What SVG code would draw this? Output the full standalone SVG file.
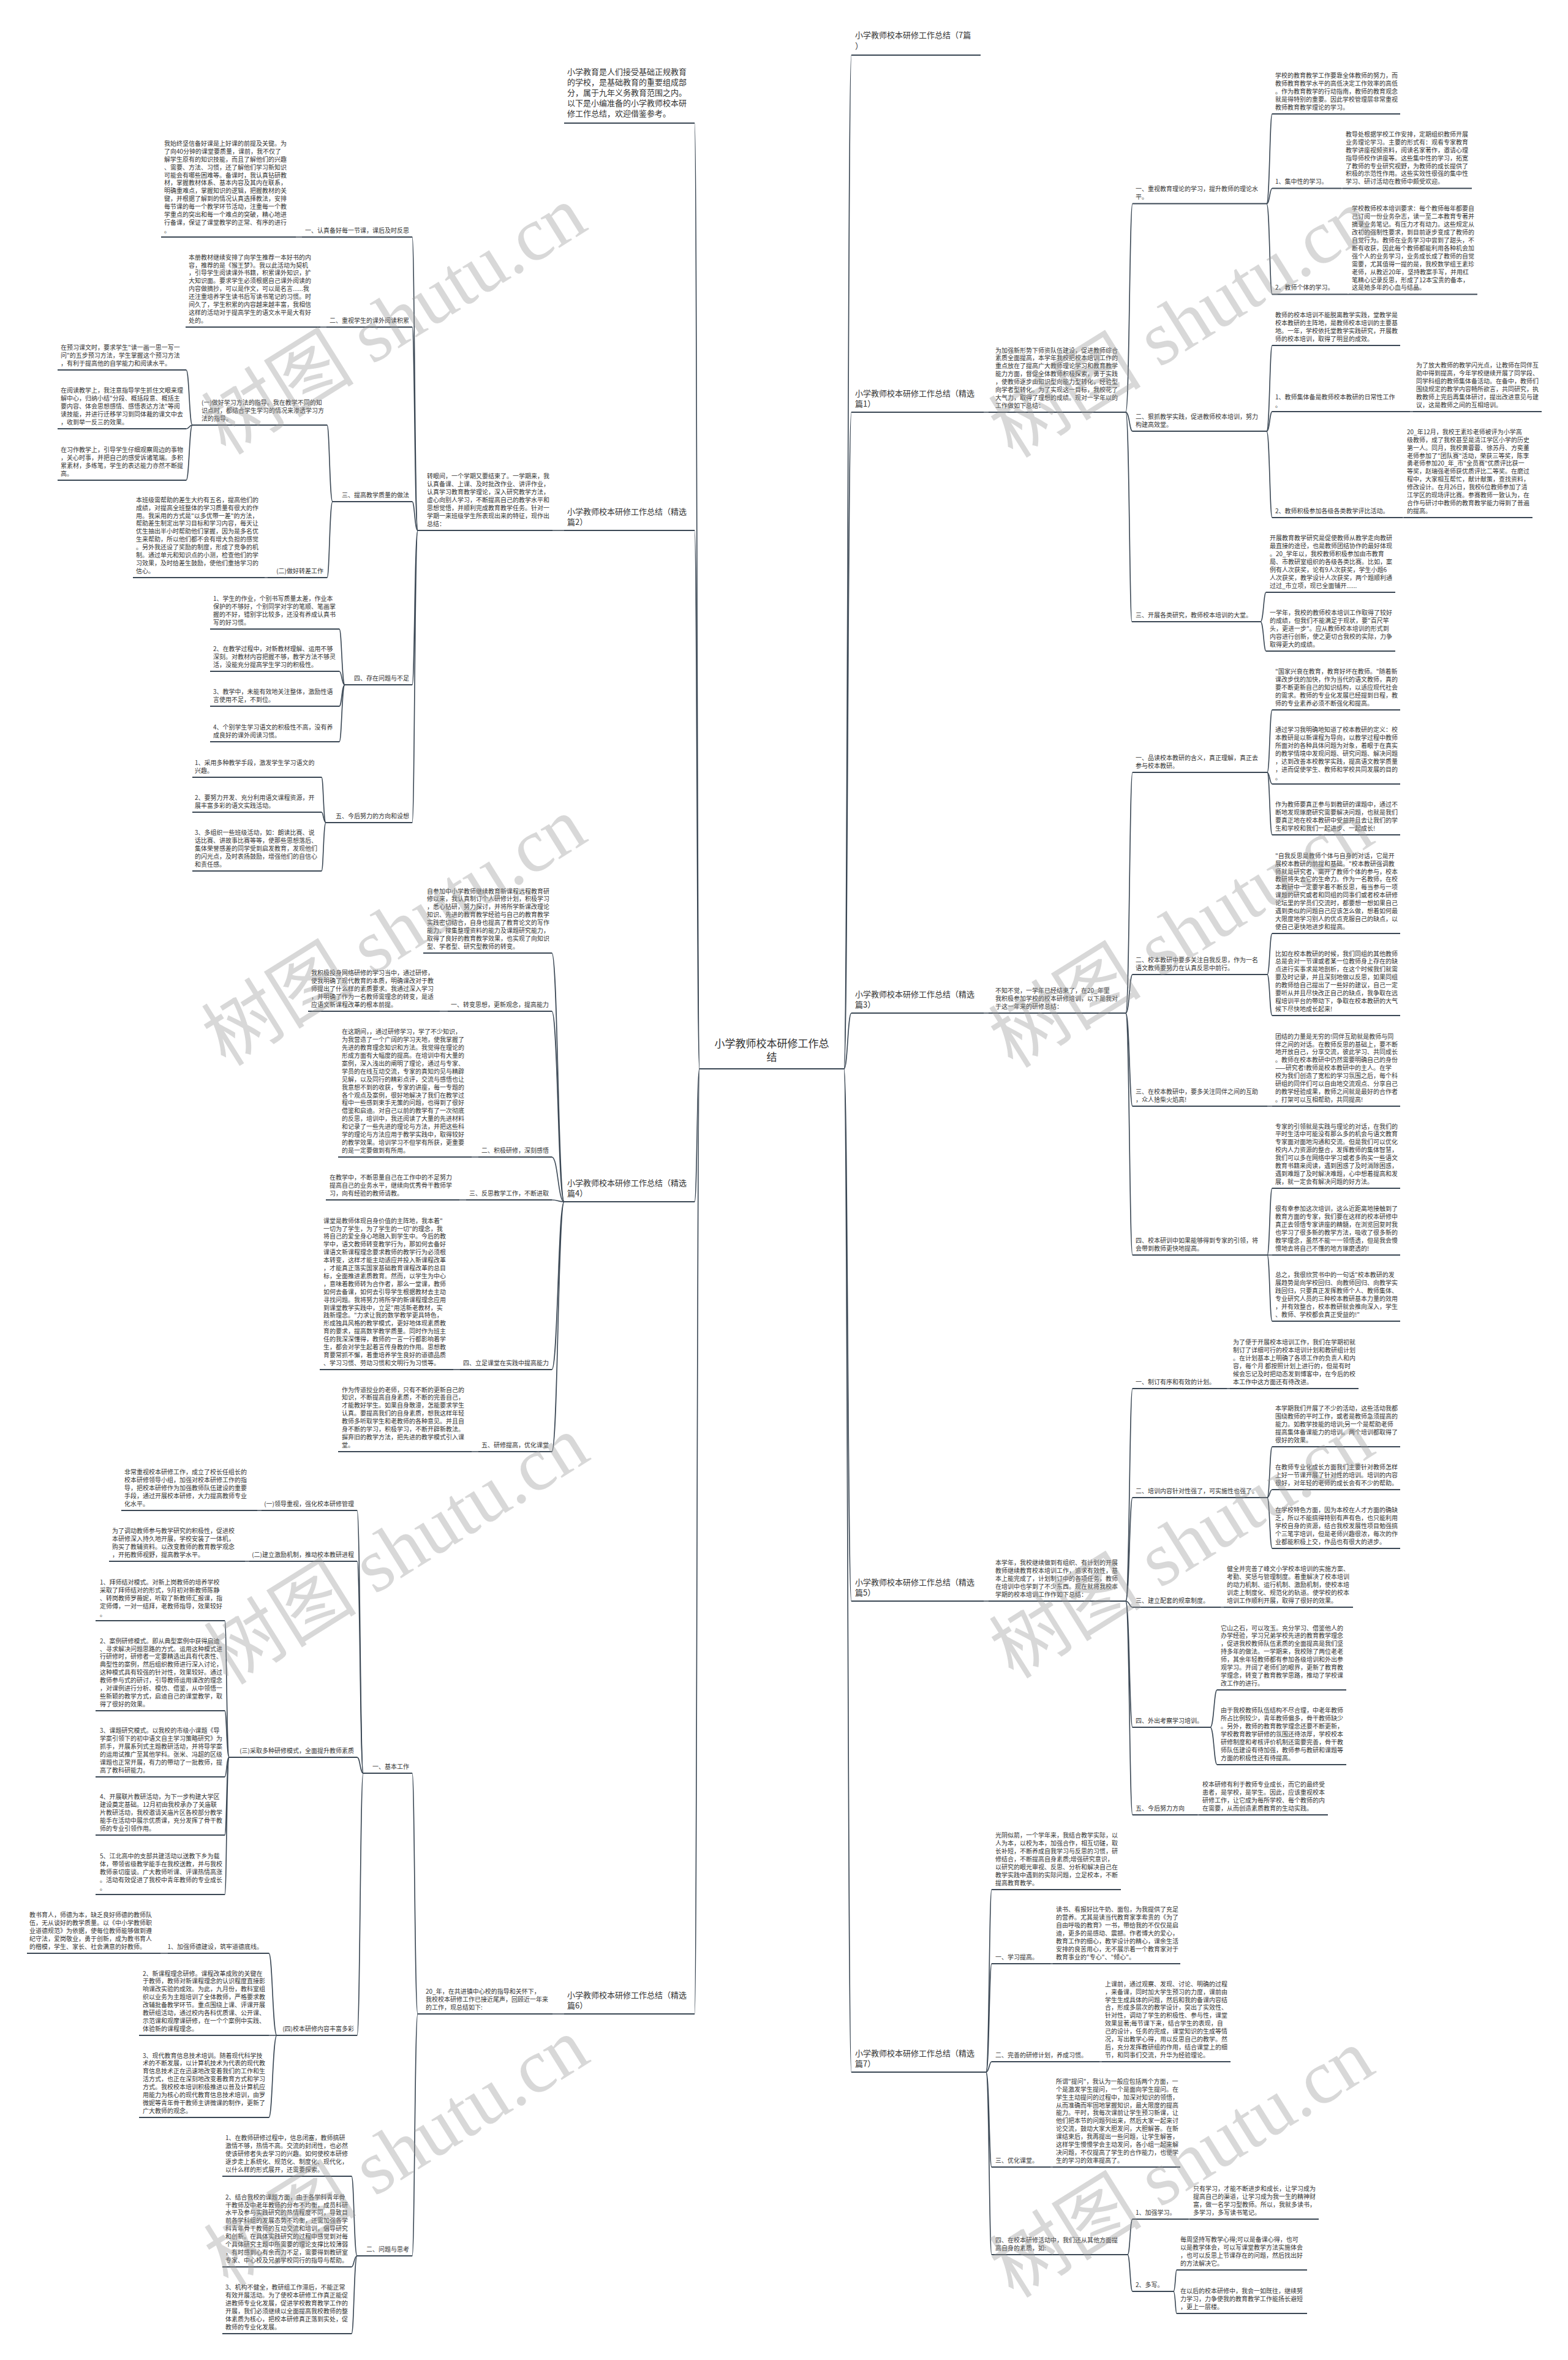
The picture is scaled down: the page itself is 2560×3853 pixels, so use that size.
<svg xmlns="http://www.w3.org/2000/svg" width="2560" height="3853" viewBox="0 0 2560 3853">
<style>
text{font-family:"Noto Sans CJK SC","Noto Sans",sans-serif;fill:#333}
.t{font-size:10px}
.h{font-size:13px}
.c{font-size:17px}
.u,.e{stroke:#3a4754;fill:none;stroke-width:2}
.e{stroke-width:1.6}
.wm{font-family:"Liberation Serif","Noto Sans CJK SC",serif;font-size:125px;fill:#999;fill-opacity:0.38}
</style>
<rect width="2560" height="3853" fill="#fff"/>
<g id="connectors">
<path class="e" d="M1378 1745 C1384 1745 1384 90 1390 90"/>
<path class="e" d="M1378 1745 C1384 1745 1384 673 1390 673"/>
<path class="e" d="M1378 1745 C1384 1745 1384 1654 1390 1654"/>
<path class="e" d="M1378 1745 C1384 1745 1384 2614 1390 2614"/>
<path class="e" d="M1378 1745 C1384 1745 1384 3383 1390 3383"/>
<path class="e" d="M1606 673 H1614"/>
<path class="e" d="M1838 673 C1844 673 1844 332.5 1849 332.5"/>
<path class="e" d="M1838 673 C1844 673 1844 704 1849 704"/>
<path class="e" d="M1838 673 C1844 673 1844 1015 1848 1015"/>
<path class="e" d="M2068 332.5 C2073 332.5 2073 186 2077 186"/>
<path class="e" d="M2068 332.5 C2073 332.5 2073 307.5 2077 307.5"/>
<path class="e" d="M2068 332.5 C2073 332.5 2073 480.6 2077 480.6"/>
<path class="e" d="M2190 307.5 H2192"/>
<path class="e" d="M2200 480.6 H2202"/>
<path class="e" d="M2068 704 C2073 704 2073 564 2077 564"/>
<path class="e" d="M2068 704 C2073 704 2073 672 2077 672"/>
<path class="e" d="M2068 704 C2073 704 2073 845 2077 845"/>
<path class="e" d="M2302 672 H2307"/>
<path class="e" d="M2290 845 H2292"/>
<path class="e" d="M2058 1015 C2063 1015 2063 967 2067 967"/>
<path class="e" d="M2058 1015 C2063 1015 2063 1063 2067 1063"/>
<path class="e" d="M1606 1654 H1614"/>
<path class="e" d="M1838 1654 C1844 1654 1844 1261 1849 1261"/>
<path class="e" d="M1838 1654 C1844 1654 1844 1591 1849 1591"/>
<path class="e" d="M1838 1654 C1844 1654 1844 1806 1849 1806"/>
<path class="e" d="M1838 1654 C1844 1654 1844 2049 1849 2049"/>
<path class="e" d="M2069 1261 C2073 1261 2073 1159 2077 1159"/>
<path class="e" d="M2069 1261 C2073 1261 2073 1280 2077 1280"/>
<path class="e" d="M2069 1261 C2073 1261 2073 1363 2077 1363"/>
<path class="e" d="M2069 1591 C2073 1591 2073 1524 2077 1524"/>
<path class="e" d="M2069 1591 C2073 1591 2073 1658 2077 1658"/>
<path class="e" d="M2069 1806 H2077"/>
<path class="e" d="M2069 2049 C2073 2049 2073 1940 2077 1940"/>
<path class="e" d="M2069 2049 H2077"/>
<path class="e" d="M2069 2049 C2073 2049 2073 2157 2077 2157"/>
<path class="e" d="M1606 2614 H1614"/>
<path class="e" d="M1838 2614 C1844 2614 1844 2267 1849 2267"/>
<path class="e" d="M1838 2614 C1844 2614 1844 2445 1849 2445"/>
<path class="e" d="M1838 2614 C1844 2614 1844 2624 1849 2624"/>
<path class="e" d="M1838 2614 C1844 2614 1844 2820 1849 2820"/>
<path class="e" d="M1838 2614 C1844 2614 1844 2963 1849 2963"/>
<path class="e" d="M2003 2267 H2008"/>
<path class="e" d="M2069 2445 C2073 2445 2073 2362 2077 2362"/>
<path class="e" d="M2069 2445 C2073 2445 2073 2432 2077 2432"/>
<path class="e" d="M2069 2445 C2073 2445 2073 2528 2077 2528"/>
<path class="e" d="M1993 2624 H1998"/>
<path class="e" d="M1976 2820 C1982 2820 1982 2759 1987 2759"/>
<path class="e" d="M1976 2820 C1982 2820 1982 2881 1987 2881"/>
<path class="e" d="M1955 2963 H1958"/>
<path class="e" d="M1610 3383 C1615 3383 1615 3085 1619 3085"/>
<path class="e" d="M1610 3383 C1615 3383 1615 3206 1619 3206"/>
<path class="e" d="M1610 3383 C1615 3383 1615 3366 1619 3366"/>
<path class="e" d="M1610 3383 C1615 3383 1615 3538 1619 3538"/>
<path class="e" d="M1610 3383 C1615 3383 1615 3681 1619 3681"/>
<path class="e" d="M1715 3206 H1719"/>
<path class="e" d="M1795 3366 H1799"/>
<path class="e" d="M1715 3538 H1719"/>
<path class="e" d="M1841 3681 C1845 3681 1845 3623 1849 3623"/>
<path class="e" d="M1841 3681 C1845 3681 1845 3741 1849 3741"/>
<path class="e" d="M1940 3623 H1943"/>
<path class="e" d="M1916 3741 C1919 3741 1919 3706 1921 3706"/>
<path class="e" d="M1916 3741 C1919 3741 1919 3777 1921 3777"/>
<path class="e" d="M1142 1745 C1138 1745 1138 201 1134 201"/>
<path class="e" d="M1142 1745 C1138 1745 1138 866 1134 866"/>
<path class="e" d="M1142 1745 C1138 1745 1138 1962 1134 1962"/>
<path class="e" d="M1142 1745 C1138 1745 1138 3288 1134 3288"/>
<path class="e" d="M921 866 H902"/>
<path class="e" d="M682 866 C677 866 677 387 673 387"/>
<path class="e" d="M682 866 C677 866 677 534 673 534"/>
<path class="e" d="M682 866 C677 866 677 819 673 819"/>
<path class="e" d="M682 866 C677 866 677 1118 673 1118"/>
<path class="e" d="M682 866 C677 866 677 1343 673 1343"/>
<path class="e" d="M493 387 H483"/>
<path class="e" d="M533 534 H523"/>
<path class="e" d="M543 819 C538 819 538 694 534 694"/>
<path class="e" d="M543 819 C538 819 538 943 534 943"/>
<path class="e" d="M314 694 C309 694 309 604 304 604"/>
<path class="e" d="M314 694 C309 694 309 700 304 700"/>
<path class="e" d="M314 694 C309 694 309 784 304 784"/>
<path class="e" d="M437 943 H432"/>
<path class="e" d="M563 1118 C558 1118 558 1027 554 1027"/>
<path class="e" d="M563 1118 C558 1118 558 1096 554 1096"/>
<path class="e" d="M563 1118 C558 1118 558 1153 554 1153"/>
<path class="e" d="M563 1118 C558 1118 558 1211 554 1211"/>
<path class="e" d="M532 1343 C528 1343 528 1269 525 1269"/>
<path class="e" d="M532 1343 C528 1343 528 1326 525 1326"/>
<path class="e" d="M532 1343 C528 1343 528 1422 525 1422"/>
<path class="e" d="M921 1962 C911 1962 911 1556 901 1556"/>
<path class="e" d="M921 1962 C911 1962 911 1651 901 1651"/>
<path class="e" d="M921 1962 C911 1962 911 1889 901 1889"/>
<path class="e" d="M921 1962 C911 1962 911 1959 901 1959"/>
<path class="e" d="M921 1962 C911 1962 911 2236 901 2236"/>
<path class="e" d="M921 1962 C911 1962 911 2370 901 2370"/>
<path class="e" d="M731 1651 H718"/>
<path class="e" d="M781 1889 H770"/>
<path class="e" d="M761 1959 H750"/>
<path class="e" d="M751 2236 H740"/>
<path class="e" d="M781 2370 H770"/>
<path class="e" d="M921 3288 H902"/>
<path class="e" d="M682 3288 C677 3288 677 2895 673 2895"/>
<path class="e" d="M682 3288 C677 3288 677 3683 673 3683"/>
<path class="e" d="M593 2895 C588 2895 588 2466 583 2466"/>
<path class="e" d="M593 2895 C588 2895 588 2549 583 2549"/>
<path class="e" d="M593 2895 C588 2895 588 2869 583 2869"/>
<path class="e" d="M593 2895 C588 2895 588 3323 583 3323"/>
<path class="e" d="M427 2466 H420"/>
<path class="e" d="M407 2549 H400"/>
<path class="e" d="M374 2869 C370 2869 370 2646 367 2646"/>
<path class="e" d="M374 2869 C370 2869 370 2793 367 2793"/>
<path class="e" d="M374 2869 C370 2869 370 2901 367 2901"/>
<path class="e" d="M374 2869 C370 2869 370 2996 367 2996"/>
<path class="e" d="M374 2869 C370 2869 370 3093 367 3093"/>
<path class="e" d="M452 3323 C445 3323 445 3189 439 3189"/>
<path class="e" d="M452 3323 H439"/>
<path class="e" d="M452 3323 C445 3323 445 3457 439 3457"/>
<path class="e" d="M274 3189 H262"/>
<path class="e" d="M583 3683 C578 3683 578 3553 574 3553"/>
<path class="e" d="M583 3683 C578 3683 578 3701 574 3701"/>
<path class="e" d="M583 3683 C578 3683 578 3810 574 3810"/>
</g>
<g id="center"><text class="c" text-anchor="middle"><tspan x="1260" y="1709.5">小学教师校本研修工作总</tspan><tspan x="1260" y="1731.5">结</tspan></text><path class="u" d="M1142 1745 H1378"/></g>
<g id="r0"><text class="h"><tspan x="1396" y="62.4">小学教师校本研修工作总结（7篇</tspan><tspan x="1396" dy="17.5">）</tspan></text><path class="u" d="M1390 90 H1601"/></g>
<g id="r1"><text class="h"><tspan x="1396" y="646.9">小学教师校本研修工作总结（精选</tspan><tspan x="1396" dy="17">篇1）</tspan></text><path class="u" d="M1390 673 H1606"/></g>
<g id="r1i"><text class="t"><tspan x="1625" y="575.5">为加强新形势下师资队伍建设，促进教师综合</tspan><tspan x="1625" dy="12.9">素质全面提高，本学年我校把校本培训工作的</tspan><tspan x="1625" dy="12.9">重点放在了提高广大教师理论学习和教育教学</tspan><tspan x="1625" dy="12.9">能力方面，督促全体教师积极探索，勇于实践</tspan><tspan x="1625" dy="12.9">，使教师逐步由知识型向能力型转化，经验型</tspan><tspan x="1625" dy="12.9">向学者型转化。为了实现这一目标，我校花了</tspan><tspan x="1625" dy="12.9">大气力，取得了理想的成绩。现对一学年以的</tspan><tspan x="1625" dy="12.9">工作做如下总结：</tspan></text><path class="u" d="M1614 673 H1838"/></g>
<g id="r1a"><text class="t"><tspan x="1854" y="312.4">一、重视教育理论的学习，提升教师的理论水</tspan><tspan x="1854" dy="12.9">平。</tspan></text><path class="u" d="M1849 332.5 H2068"/></g>
<g id="r1a1"><text class="t"><tspan x="2082" y="127.2">学校的教育教学工作要靠全体教师的努力，而</tspan><tspan x="2082" dy="12.9">教师教育教学水平的高低决定工作效率的高低</tspan><tspan x="2082" dy="12.9">。作为教育教学的行动指南，教师的教育观念</tspan><tspan x="2082" dy="12.9">就是得特别的重要。因此学校管理层非常重视</tspan><tspan x="2082" dy="12.9">教师教育教学理论的学习。</tspan></text><path class="u" d="M2077 186 H2286"/></g>
<g id="r1a2"><text class="t" x="2082" y="300.3">1、集中性的学习。</text><path class="u" d="M2077 307.5 H2190"/></g>
<g id="r1a2c"><text class="t"><tspan x="2197" y="222.9">教导处根据学校工作安排，定期组织教师开展</tspan><tspan x="2197" dy="12.9">业务理论学习。主要的形式有：观看专家教育</tspan><tspan x="2197" dy="12.9">教学讲座视频资料，阅读名家著作，邀请心理</tspan><tspan x="2197" dy="12.9">指导师校作讲座等。这些集中性的学习，拓宽</tspan><tspan x="2197" dy="12.9">了教师的专业研究视野，为教师的成长提供了</tspan><tspan x="2197" dy="12.9">积极的示范性作用。这些实效性很强的集中性</tspan><tspan x="2197" dy="12.9">学习、研讨活动在教师中颇受欢迎。</tspan></text><path class="u" d="M2192 307.5 H2403"/></g>
<g id="r1a3"><text class="t" x="2082" y="473.4">2、教师个体的学习。</text><path class="u" d="M2077 480.6 H2200"/></g>
<g id="r1a3c"><text class="t"><tspan x="2207" y="344.4">学校教师校本培训要求：每个教师每年都要自</tspan><tspan x="2207" dy="12.9">己订阅一份业务杂志，读一至二本教育专著并</tspan><tspan x="2207" dy="12.9">摘录业务笔记。有压力才有动力。这些规定从</tspan><tspan x="2207" dy="12.9">改初的强制性要求，到目前逐步变成了教师的</tspan><tspan x="2207" dy="12.9">自觉行为。教师在业务学习中尝到了甜头，不</tspan><tspan x="2207" dy="12.9">断有收获，因此每个教师都能利用各种机会加</tspan><tspan x="2207" dy="12.9">强个人的业务学习，业务成长成了教师的自觉</tspan><tspan x="2207" dy="12.9">需要，尤其值得一提的是，我校数学组王素珍</tspan><tspan x="2207" dy="12.9">老师，从教近20年，坚持教案手写，并用红</tspan><tspan x="2207" dy="12.9">笔精心记录反思，形成了12本宝贵的备本，</tspan><tspan x="2207" dy="12.9">这是她多年的心血与结晶。</tspan></text><path class="u" d="M2202 480.6 H2412"/></g>
<g id="r1b"><text class="t"><tspan x="1854" y="683.9">二、狠抓教学实践，促进教师校本培训，努力</tspan><tspan x="1854" dy="12.9">构建高效堂。</tspan></text><path class="u" d="M1849 704 H2068"/></g>
<g id="r1b1"><text class="t"><tspan x="2082" y="518.1">教师的校本培训不能脱离教学实践，堂教学是</tspan><tspan x="2082" dy="12.9">校本教研的主阵地，是教师校本培训的主要基</tspan><tspan x="2082" dy="12.9">地。一年，学校依托堂教学实践研究，开展教</tspan><tspan x="2082" dy="12.9">师的校本培训，取得了明显的成效。</tspan></text><path class="u" d="M2077 564 H2286"/></g>
<g id="r1b2"><text class="t"><tspan x="2082" y="651.9">1、教师集体备是教师校本教研的日常性工作</tspan><tspan x="2082" dy="12.9">。</tspan></text><path class="u" d="M2077 672 H2302"/></g>
<g id="r1b2c"><text class="t"><tspan x="2312" y="600.3">为了放大教师的教学闪光点，让教师在同伴互</tspan><tspan x="2312" dy="12.9">助中得到提高，今年学校继续开展了同学段、</tspan><tspan x="2312" dy="12.9">同学科组的教师集体备活动。在备中，教师们</tspan><tspan x="2312" dy="12.9">围绕规定的教学内容畅所欲言，共同研究，执</tspan><tspan x="2312" dy="12.9">教教师上完后再集体研讨，提出改进意见与建</tspan><tspan x="2312" dy="12.9">议，这是教师之间的互相培训。</tspan></text><path class="u" d="M2307 672 H2517"/></g>
<g id="r1b3"><text class="t" x="2082" y="837.8">2、教师积极参加各级各类教学评比活动。</text><path class="u" d="M2077 845 H2290"/></g>
<g id="r1b3c"><text class="t"><tspan x="2297" y="708.8">20_年12月，我校王素珍老师被评为小学高</tspan><tspan x="2297" dy="12.9">级教师，成了我校甚至是清江学区小学的历史</tspan><tspan x="2297" dy="12.9">第一人。同月，我校黄蓉蓉、徐苏丹、方奕董</tspan><tspan x="2297" dy="12.9">老师参加了"团队赛"活动，荣获三等奖，陈李</tspan><tspan x="2297" dy="12.9">勇老师参加20_年_市"全员赛"优质评比获一</tspan><tspan x="2297" dy="12.9">等奖，赵瑞强老师获优质评比二等奖。在磨过</tspan><tspan x="2297" dy="12.9">程中，大家相互帮忙，献计献策，查找资料，</tspan><tspan x="2297" dy="12.9">修改设计。在月26日，我校6位教师参加了清</tspan><tspan x="2297" dy="12.9">江学区的现场评比赛。参赛教师一致认为，在</tspan><tspan x="2297" dy="12.9">合作与研讨中教师的教育教学能力得到了普遍</tspan><tspan x="2297" dy="12.9">的提高。</tspan></text><path class="u" d="M2292 845 H2502"/></g>
<g id="r1c"><text class="t" x="1854" y="1007.8">三、开展各类研究，教师校本培训的大堂。</text><path class="u" d="M1848 1015 H2058"/></g>
<g id="r1c1"><text class="t"><tspan x="2073" y="882.4">开展教育教学研究是促使教师从教学走向教研</tspan><tspan x="2073" dy="12.9">最直接的途径，也是教师团结协作的最好体现</tspan><tspan x="2073" dy="12.9">。20_学年以，我校教师积极参加由市教育</tspan><tspan x="2073" dy="12.9">局、市教研室组织的各级各类比赛。比如，案</tspan><tspan x="2073" dy="12.9">例有人次获奖，论有9人次获奖，学生小题6</tspan><tspan x="2073" dy="12.9">人次获奖，教学设计人次获奖，两个题顺利通</tspan><tspan x="2073" dy="12.9">过过_市立项，现已全面铺开......</tspan></text><path class="u" d="M2067 967 H2278"/></g>
<g id="r1c2"><text class="t"><tspan x="2073" y="1004.2">一学年，我校的教师校本培训工作取得了较好</tspan><tspan x="2073" dy="12.9">的成绩，但我们不能满足于现状，要"百尺竿</tspan><tspan x="2073" dy="12.9">头，更进一步"。应从教师校本培训的形式到</tspan><tspan x="2073" dy="12.9">内容进行创新，使之更切合我校的实际，力争</tspan><tspan x="2073" dy="12.9">取得更大的成绩。</tspan></text><path class="u" d="M2067 1063 H2278"/></g>
<g id="r3"><text class="h"><tspan x="1396" y="1627.9">小学教师校本研修工作总结（精选</tspan><tspan x="1396" dy="17">篇3）</tspan></text><path class="u" d="M1390 1654 H1606"/></g>
<g id="r3i"><text class="t"><tspan x="1625" y="1621">不知不觉，一学年已经结束了，在20_年里</tspan><tspan x="1625" dy="12.9">我积极参加学校的校本研修培训，以下是我对</tspan><tspan x="1625" dy="12.9">于这一年来的研修总结：</tspan></text><path class="u" d="M1614 1654 H1838"/></g>
<g id="r3a"><text class="t"><tspan x="1854" y="1240.9">一、品读校本教研的含义，真正理解，真正去</tspan><tspan x="1854" dy="12.9">参与校本教研。</tspan></text><path class="u" d="M1849 1261 H2069"/></g>
<g id="r3a1"><text class="t"><tspan x="2082" y="1100.2">"国家兴衰在教育，教育好坏在教师。"随着新</tspan><tspan x="2082" dy="12.9">课改步伐的加快，作为当代的语文教师，真的</tspan><tspan x="2082" dy="12.9">要不断更新自己的知识结构，以适应现代社会</tspan><tspan x="2082" dy="12.9">的需求。教师的专业化发展已经提到日程，教</tspan><tspan x="2082" dy="12.9">师的专业素养必须不断强化和提高。</tspan></text><path class="u" d="M2077 1159 H2286"/></g>
<g id="r3a2"><text class="t"><tspan x="2082" y="1195.4">通过学习我明确地知道了校本教研的定义：校</tspan><tspan x="2082" dy="12.9">本教研是以新课程为导向，以教学过程中教师</tspan><tspan x="2082" dy="12.9">所面对的各种具体问题为对象，着眼于在真实</tspan><tspan x="2082" dy="12.9">的教学情境中发现问题、研究问题、解决问题</tspan><tspan x="2082" dy="12.9">，达到改善本校教学实践，提高语文教学质量</tspan><tspan x="2082" dy="12.9">，进而促使学生、教师和学校共同发展的目的</tspan><tspan x="2082" dy="12.9">。</tspan></text><path class="u" d="M2077 1280 H2286"/></g>
<g id="r3a3"><text class="t"><tspan x="2082" y="1317.1">作为教师要真正参与到教研的课题中，通过不</tspan><tspan x="2082" dy="12.9">断地发现琢磨研究需要解决问题，也就是我们</tspan><tspan x="2082" dy="12.9">要真正地在校本教研中受益并且去让我们的学</tspan><tspan x="2082" dy="12.9">生和学校和我们一起进步、一起成长!</tspan></text><path class="u" d="M2077 1363 H2286"/></g>
<g id="r3b"><text class="t"><tspan x="1854" y="1570.9">二、校本教研中要多关注自我反思，作为一名</tspan><tspan x="1854" dy="12.9">语文教师要努力在认真反思中前行。</tspan></text><path class="u" d="M1849 1591 H2069"/></g>
<g id="r3b1"><text class="t"><tspan x="2082" y="1400.7">"自我反思是教师个体与自身的对话，它是开</tspan><tspan x="2082" dy="12.9">展校本教研的前提和基础。"校本教研强调教</tspan><tspan x="2082" dy="12.9">师就是研究者，离开了教师个体的参与，校本</tspan><tspan x="2082" dy="12.9">教研将失去它的生命力。作为一名教师，在校</tspan><tspan x="2082" dy="12.9">本教研中一定要学着不断反思，每当参与一项</tspan><tspan x="2082" dy="12.9">课题的研究或者和同组的同事们或者校本研修</tspan><tspan x="2082" dy="12.9">论坛里的学员们交流时，都要想一想如果自己</tspan><tspan x="2082" dy="12.9">遇到类似的问题自己应该怎么做，想着如何最</tspan><tspan x="2082" dy="12.9">大限度地学习别人的优点克服自己的缺点，以</tspan><tspan x="2082" dy="12.9">使自己更快地进步和提高。</tspan></text><path class="u" d="M2077 1524 H2286"/></g>
<g id="r3b2"><text class="t"><tspan x="2082" y="1560.5">比如在校本教研的时候，我们同组的其他教师</tspan><tspan x="2082" dy="12.9">总是会对一节课或者某一位教师身上存在的缺</tspan><tspan x="2082" dy="12.9">点进行实事求是地剖析，在这个时候我们就需</tspan><tspan x="2082" dy="12.9">要及时记录，并且深刻地做以反思，如果同组</tspan><tspan x="2082" dy="12.9">的教师给自己提出了一些好的建议，自己一定</tspan><tspan x="2082" dy="12.9">要听从并且尽快改正自己的缺点，我争取在远</tspan><tspan x="2082" dy="12.9">程培训平台的带动下，争取在校本教研的大气</tspan><tspan x="2082" dy="12.9">候下尽快地成长起来!</tspan></text><path class="u" d="M2077 1658 H2286"/></g>
<g id="r3c"><text class="t"><tspan x="1854" y="1785.9">三、在校本教研中，要多关注同伴之间的互助</tspan><tspan x="1854" dy="12.9">，众人拾柴火焰高!</tspan></text><path class="u" d="M1849 1806 H2069"/></g>
<g id="r3c1"><text class="t"><tspan x="2082" y="1695.6">团结的力量是无穷的!同伴互助就是教师与同</tspan><tspan x="2082" dy="12.9">伴之间的对话。在教师反思的基础上，要不断</tspan><tspan x="2082" dy="12.9">地开放自己，分享交流，彼此学习、共同成长</tspan><tspan x="2082" dy="12.9">。教师在校本教研中仍然需要明确自己的身份</tspan><tspan x="2082" dy="12.9">——研究者!教师是校本教研中的主人。在学</tspan><tspan x="2082" dy="12.9">校为我们创造了宽松的学习氛围之后，每个科</tspan><tspan x="2082" dy="12.9">研组的同伴们可以自由地交流观点、分享自己</tspan><tspan x="2082" dy="12.9">的教学经验成果，教师之间就是最好的合作者</tspan><tspan x="2082" dy="12.9">。打架可以互相帮助，共同提高!</tspan></text><path class="u" d="M2077 1806 H2286"/></g>
<g id="r3d"><text class="t"><tspan x="1854" y="2028.9">四、校本研训中如果能够得到专家的引领，将</tspan><tspan x="1854" dy="12.9">会带到教师更快地提高。</tspan></text><path class="u" d="M1849 2049 H2069"/></g>
<g id="r3d1"><text class="t"><tspan x="2082" y="1842.5">专家的引领就是实践与理论的对话，在我们的</tspan><tspan x="2082" dy="12.9">平时生活中可能没有那么多的机会与语文教育</tspan><tspan x="2082" dy="12.9">专家面对面地沟通和交流。但是我们可以优化</tspan><tspan x="2082" dy="12.9">校内人力资源的整合，发挥教师的集体智慧，</tspan><tspan x="2082" dy="12.9">我们可以多在网络中学习或者多购买一些语文</tspan><tspan x="2082" dy="12.9">教育书籍来阅读，遇到困惑了及时消除困惑，</tspan><tspan x="2082" dy="12.9">遇到难题了及时解决难题，心中想着提高和发</tspan><tspan x="2082" dy="12.9">展，就一定会有解决问题的好方法。</tspan></text><path class="u" d="M2077 1940 H2286"/></g>
<g id="r3d2"><text class="t"><tspan x="2082" y="1977.3">很有幸参加这次培训，这么近距离地接触到了</tspan><tspan x="2082" dy="12.9">教育方面的专家，我们要在这样的校本研修中</tspan><tspan x="2082" dy="12.9">真正去领悟专家讲座的精髓，在浏览回复时我</tspan><tspan x="2082" dy="12.9">也学习了很多新的教学方法，吸收了很多新的</tspan><tspan x="2082" dy="12.9">教学理念，虽然不能一一领悟透，但是我会慢</tspan><tspan x="2082" dy="12.9">慢地去将自己不懂的地方琢磨透的!</tspan></text><path class="u" d="M2077 2049 H2286"/></g>
<g id="r3d3"><text class="t"><tspan x="2082" y="2085.3">总之，我很欣赏书中的一句话"校本教研的发</tspan><tspan x="2082" dy="12.9">展趋势是向学校回归、向教师回归、向教学实</tspan><tspan x="2082" dy="12.9">践回归，只要真正发挥教师个人、教师集体、</tspan><tspan x="2082" dy="12.9">专业研究人员的三种校本教研基本力量的效用</tspan><tspan x="2082" dy="12.9">，并有效整合，校本教研就会推向深入，学生</tspan><tspan x="2082" dy="12.9">、教师、学校都会真正受益的!"</tspan></text><path class="u" d="M2077 2157 H2286"/></g>
<g id="r5"><text class="h"><tspan x="1396" y="2587.9">小学教师校本研修工作总结（精选</tspan><tspan x="1396" dy="17">篇5）</tspan></text><path class="u" d="M1390 2614 H1606"/></g>
<g id="r5i"><text class="t"><tspan x="1625" y="2555.2">本学年，我校继续做到有组织、有计划的开展</tspan><tspan x="1625" dy="12.9">教师继续教育校本培训工作，追求有效性，基</tspan><tspan x="1625" dy="12.9">本上能完成了，计划制订中的各项任务，教师</tspan><tspan x="1625" dy="12.9">在培训中也学到了不少东西。现在就将我校本</tspan><tspan x="1625" dy="12.9">学期的校本培训工作作如下总结：</tspan></text><path class="u" d="M1614 2614 H1838"/></g>
<g id="r5a"><text class="t" x="1854" y="2259.8">一、制订有序和有效的计划。</text><path class="u" d="M1849 2267 H2003"/></g>
<g id="r5a1"><text class="t"><tspan x="2013" y="2195.3">为了便于开展校本培训工作，我们在学期初就</tspan><tspan x="2013" dy="12.9">制订了详细可行的校本培训计划和教研组计划</tspan><tspan x="2013" dy="12.9">。在计划基本上明确了各项工作的负责人和内</tspan><tspan x="2013" dy="12.9">容，每个月 都按照计划上进行的，但是有时</tspan><tspan x="2013" dy="12.9">候会忘记及时把动态发到博客中，在今后的校</tspan><tspan x="2013" dy="12.9">本工作中这方面还有待改进。</tspan></text><path class="u" d="M2008 2267 H2218"/></g>
<g id="r5b"><text class="t" x="1854" y="2437.8">二、培训内容针对性强了，可实施性也强了。</text><path class="u" d="M1849 2445 H2069"/></g>
<g id="r5b1"><text class="t"><tspan x="2082" y="2303.2">本学期我们开展了不少的活动，这些活动我都</tspan><tspan x="2082" dy="12.9">围绕教师的平时工作，或者是教师急须提高的</tspan><tspan x="2082" dy="12.9">能力。如教学技能的培训;另一个是帮助老师</tspan><tspan x="2082" dy="12.9">提高集体备课能力的培训。两个培训都取得了</tspan><tspan x="2082" dy="12.9">很好的效果。</tspan></text><path class="u" d="M2077 2362 H2286"/></g>
<g id="r5b2"><text class="t"><tspan x="2082" y="2399">在教师专业化成长方面我们主要针对教师怎样</tspan><tspan x="2082" dy="12.9">上好一节课开展了针对性的培训。培训的内容</tspan><tspan x="2082" dy="12.9">很好，对年轻的老师的成长会有不少的帮助。</tspan></text><path class="u" d="M2077 2432 H2286"/></g>
<g id="r5b3"><text class="t"><tspan x="2082" y="2469.2">在学校特色方面，因为本校在人才方面的确缺</tspan><tspan x="2082" dy="12.9">乏，所以不能搞得特别有声有色，也只能利用</tspan><tspan x="2082" dy="12.9">学校自身的资源，结合我校发展性项目勉强搞</tspan><tspan x="2082" dy="12.9">个三笔字培训，但是老师兴趣很浓，每次的作</tspan><tspan x="2082" dy="12.9">业都能积极上交，作品也有很大的进步。</tspan></text><path class="u" d="M2077 2528 H2286"/></g>
<g id="r5c"><text class="t" x="1854" y="2616.8">三、建立配套的规章制度。</text><path class="u" d="M1849 2624 H1993"/></g>
<g id="r5c1"><text class="t"><tspan x="2003" y="2565.2">健全并完善了峰文小学校本培训的实施方案、</tspan><tspan x="2003" dy="12.9">考勤、奖惩与管理制度。着重解决了校本培训</tspan><tspan x="2003" dy="12.9">的动力机制、运行机制、激励机制，使校本培</tspan><tspan x="2003" dy="12.9">训走上制度化、规范化的轨道。使学校的校本</tspan><tspan x="2003" dy="12.9">培训工作顺利开展，取得了很好的效果。</tspan></text><path class="u" d="M1998 2624 H2209"/></g>
<g id="r5d"><text class="t" x="1854" y="2812.8">四、外出考察学习培训。</text><path class="u" d="M1849 2820 H1976"/></g>
<g id="r5d1"><text class="t"><tspan x="1993" y="2661.5">它山之石，可以攻玉。充分学习、借鉴他人的</tspan><tspan x="1993" dy="12.9">办学经验，学习兄弟学校先进的教育教学理念</tspan><tspan x="1993" dy="12.9">，促进我校教师队伍素质的全面提高是我们坚</tspan><tspan x="1993" dy="12.9">持多年的做法。一学期来，我校除了两位老老</tspan><tspan x="1993" dy="12.9">师，其余年轻教师都有参加各级培训和外出参</tspan><tspan x="1993" dy="12.9">观学习。开阔了老师们的眼界，更新了教育教</tspan><tspan x="1993" dy="12.9">学理念，转变了教育教学思路，推动了学校课</tspan><tspan x="1993" dy="12.9">改工作的进行。</tspan></text><path class="u" d="M1987 2759 H2198"/></g>
<g id="r5d2"><text class="t"><tspan x="1993" y="2796.4">由于我校教师队伍结构不尽合理，中老年教师</tspan><tspan x="1993" dy="12.9">所占比例较少，青年教师偏多，骨干教师缺少</tspan><tspan x="1993" dy="12.9">。另外，教师的教育教学理念还要不断更新，</tspan><tspan x="1993" dy="12.9">学校教育教学研修的氛围还待浓厚，学校校本</tspan><tspan x="1993" dy="12.9">研修制度和考核评价机制还需要完善，骨干教</tspan><tspan x="1993" dy="12.9">师队伍建设有待加强，教师参与教研和课题等</tspan><tspan x="1993" dy="12.9">方面的积极性还有待提高。</tspan></text><path class="u" d="M1987 2881 H2198"/></g>
<g id="r5e"><text class="t" x="1854" y="2955.8">五、今后努力方向</text><path class="u" d="M1849 2963 H1955"/></g>
<g id="r5e1"><text class="t"><tspan x="1963" y="2917.1">校本研修有利于教师专业成长，而它的最终受</tspan><tspan x="1963" dy="12.9">患者，是学校，是学生。因此，应该重视校本</tspan><tspan x="1963" dy="12.9">研修工作，让它成为每所学校、每个教师的内</tspan><tspan x="1963" dy="12.9">在需要，从而创造素质教育的生动实践。</tspan></text><path class="u" d="M1958 2963 H2168"/></g>
<g id="r7"><text class="h"><tspan x="1396" y="3356.9">小学教师校本研修工作总结（精选</tspan><tspan x="1396" dy="17">篇7）</tspan></text><path class="u" d="M1390 3383 H1610"/></g>
<g id="r7a"><text class="t"><tspan x="1625" y="3000.4">光阴似箭，一个学年来，我结合教学实际，以</tspan><tspan x="1625" dy="12.9">人为本，以校为本，加强合作，相互切磋，取</tspan><tspan x="1625" dy="12.9">长补短，不断养成自我学习与反思的习惯，研</tspan><tspan x="1625" dy="12.9">修结合，不断提高自身素质;增强研究意识，</tspan><tspan x="1625" dy="12.9">以研究的眼光审视、反思、分析和解决自己在</tspan><tspan x="1625" dy="12.9">教学实践中遇到的实际问题，立足校本，不断</tspan><tspan x="1625" dy="12.9">提高教育教学。</tspan></text><path class="u" d="M1619 3085 H1830"/></g>
<g id="r7b"><text class="t" x="1625" y="3198.8">一、学习提高。</text><path class="u" d="M1619 3206 H1715"/></g>
<g id="r7bc"><text class="t"><tspan x="1724" y="3121.4">读书、看报好比牛奶、面包，为我提供了充足</tspan><tspan x="1724" dy="12.9">的营养。尤其是读当代教育家李希贵的《为了</tspan><tspan x="1724" dy="12.9">自由呼吸的教育》一书，带给我的不仅仅是启</tspan><tspan x="1724" dy="12.9">迪，更多的是感动、震撼。作者博大的爱心，</tspan><tspan x="1724" dy="12.9">教育工作的细心，教学设计的精心，课余生活</tspan><tspan x="1724" dy="12.9">安排的良苦用心，无不展示着一个教育家对于</tspan><tspan x="1724" dy="12.9">教育事业的"专心"、"倾心"。</tspan></text><path class="u" d="M1719 3206 H1927"/></g>
<g id="r7c"><text class="t" x="1625" y="3358.8">二、完善的研修计划，养成习惯。</text><path class="u" d="M1619 3366 H1795"/></g>
<g id="r7cc"><text class="t"><tspan x="1804" y="3242.7">上课前，通过观察、发现、讨论、明确的过程</tspan><tspan x="1804" dy="12.9">，来备课，同时加大学生预习的力度，课前由</tspan><tspan x="1804" dy="12.9">学生生成具体的问题，然后和我的备课内容结</tspan><tspan x="1804" dy="12.9">合，形成多层次的教学设计，突出了实效性、</tspan><tspan x="1804" dy="12.9">针对性，调动了学生的积极性、参与性，课堂</tspan><tspan x="1804" dy="12.9">效果显著;每节课下来，结合学生的表现，自</tspan><tspan x="1804" dy="12.9">己的设计，任务的完成，课堂知识的生成等情</tspan><tspan x="1804" dy="12.9">况，写出教学心得，用以反思自己的教学。然</tspan><tspan x="1804" dy="12.9">后，充分发挥教研组的作用，结合课堂上的细</tspan><tspan x="1804" dy="12.9">节，和同事们交流，升华为经验理论。</tspan></text><path class="u" d="M1799 3366 H2009"/></g>
<g id="r7d"><text class="t" x="1625" y="3530.8">三、优化课堂。</text><path class="u" d="M1619 3538 H1715"/></g>
<g id="r7dc"><text class="t"><tspan x="1724" y="3401.8">所谓"提问"，我认为一般应包括两个方面，一</tspan><tspan x="1724" dy="12.9">个是激发学生提问，一个是面向学生提问。在</tspan><tspan x="1724" dy="12.9">学生主动提问的过程中，加深对知识的领悟，</tspan><tspan x="1724" dy="12.9">从而准确而牢固地掌握知识，最大限度的提高</tspan><tspan x="1724" dy="12.9">能力。平时，我每次课前让学生预习新课，让</tspan><tspan x="1724" dy="12.9">他们把本节的问题列出来，然后大家一起来讨</tspan><tspan x="1724" dy="12.9">论交流，鼓动大家大胆发问，大胆解答。在新</tspan><tspan x="1724" dy="12.9">课结束后，我再提出一些问题，让学生解答，</tspan><tspan x="1724" dy="12.9">这样学生慢慢学会主动发问，各小组一起来解</tspan><tspan x="1724" dy="12.9">决问题，不仅提高了学生的合作能力，也使学</tspan><tspan x="1724" dy="12.9">生的学习的效率提高了。</tspan></text><path class="u" d="M1719 3538 H1927"/></g>
<g id="r7e"><text class="t"><tspan x="1625" y="3660.9">四、在校本研修活动中，我们还从其他方面提</tspan><tspan x="1625" dy="12.9">高自身的素质，如:</tspan></text><path class="u" d="M1619 3681 H1841"/></g>
<g id="r7e1"><text class="t" x="1854" y="3615.8">1、加强学习。</text><path class="u" d="M1849 3623 H1940"/></g>
<g id="r7e1c"><text class="t"><tspan x="1948" y="3577.1">只有学习，才能不断进步和成长，让学习成为</tspan><tspan x="1948" dy="12.9">提高自己的渠道，让学习成为我一生的精神财</tspan><tspan x="1948" dy="12.9">富，做一名学习型教师。所以，我就多读书，</tspan><tspan x="1948" dy="12.9">多学习，多写读书笔记。</tspan></text><path class="u" d="M1943 3623 H2153"/></g>
<g id="r7e2"><text class="t" x="1854" y="3733.8">2、多写。</text><path class="u" d="M1849 3741 H1916"/></g>
<g id="r7e2a"><text class="t"><tspan x="1927" y="3660.1">每周坚持写教学心得;可以是备课心得，也可</tspan><tspan x="1927" dy="12.9">以是教学体会，可以写课堂教学方法实施体会</tspan><tspan x="1927" dy="12.9">，也可以反思上节课存在的问题，然后找出好</tspan><tspan x="1927" dy="12.9">的方法解决它。</tspan></text><path class="u" d="M1921 3706 H2134"/></g>
<g id="r7e2b"><text class="t"><tspan x="1927" y="3744">在以后的校本研修中，我会一如既往，继续努</tspan><tspan x="1927" dy="12.9">力学习，力争使我的教育教学工作能扬长避短</tspan><tspan x="1927" dy="12.9">，更上一层楼。</tspan></text><path class="u" d="M1921 3777 H2134"/></g>
<g id="l0"><text class="h"><tspan x="926" y="122.4">小学教育是人们接受基础正规教育</tspan><tspan x="926" dy="17">的学校，是基础教育的重要组成部</tspan><tspan x="926" dy="17">分，属于九年义务教育范围之内。</tspan><tspan x="926" dy="17">以下是小编准备的小学教师校本研</tspan><tspan x="926" dy="17">修工作总结，欢迎借鉴参考。</tspan></text><path class="u" d="M921 201 H1134"/></g>
<g id="l2"><text class="h"><tspan x="926" y="839.9">小学教师校本研修工作总结（精选</tspan><tspan x="926" dy="17">篇2）</tspan></text><path class="u" d="M921 866 H1134"/></g>
<g id="l2i"><text class="t"><tspan x="697" y="781.4">转眼间，一个学期又要结束了。一学期来，我</tspan><tspan x="697" dy="12.9">认真备课、上课、及时批改作业、讲评作业，</tspan><tspan x="697" dy="12.9">认真学习教育教学理论，深入研究教学方法，</tspan><tspan x="697" dy="12.9">虚心向别人学习，不断提高自己的教学水平和</tspan><tspan x="697" dy="12.9">思想觉悟，并顺利完成教育教学任务。针对一</tspan><tspan x="697" dy="12.9">学期一来班级学生所表现出来的特征，现作出</tspan><tspan x="697" dy="12.9">总结：</tspan></text><path class="u" d="M682 866 H902"/></g>
<g id="l2a"><text class="t" x="668" y="379.8" text-anchor="end">一、认真备好每一节课，课后及时反思</text><path class="u" d="M493 387 H673"/></g>
<g id="l2a1"><text class="t"><tspan x="268" y="237.9">我始终坚信备好课是上好课的前提及关键。为</tspan><tspan x="268" dy="12.9">了向40分钟的课堂要质量，课前，我不仅了</tspan><tspan x="268" dy="12.9">解学生原有的知识技能，而且了解他们的兴趣</tspan><tspan x="268" dy="12.9">、需要、方法、习惯，还了解他们学习新知识</tspan><tspan x="268" dy="12.9">可能会有哪些困难等。备课时，我认真钻研教</tspan><tspan x="268" dy="12.9">材，掌握教材体系、基本内容及其内在联系，</tspan><tspan x="268" dy="12.9">明确重难点，掌握知识的逻辑，把握教材的关</tspan><tspan x="268" dy="12.9">键，并根据了解到的情况认真选择教法，安排</tspan><tspan x="268" dy="12.9">每节课的每一个教学环节活动，注重每一个教</tspan><tspan x="268" dy="12.9">学重点的突出和每一个难点的突破，精心地进</tspan><tspan x="268" dy="12.9">行备课，保证了课堂教学的正常、有序的进行</tspan><tspan x="268" dy="12.9">。</tspan></text><path class="u" d="M263 387 H483"/></g>
<g id="l2b"><text class="t" x="668" y="526.8" text-anchor="end">二、重视学生的课外阅读积累</text><path class="u" d="M533 534 H673"/></g>
<g id="l2b1"><text class="t"><tspan x="308" y="423.6">本册教材继续安排了向学生推荐一本好书的内</tspan><tspan x="308" dy="12.9">容，推荐的是《猴王梦》。我以此活动为契机</tspan><tspan x="308" dy="12.9">，引导学生阅读课外书籍，积累课外知识，扩</tspan><tspan x="308" dy="12.9">大知识面。要求学生必须根据自己课外阅读的</tspan><tspan x="308" dy="12.9">内容做摘抄，可以是作文，可以是名言......我</tspan><tspan x="308" dy="12.9">还注重培养学生读书后写读书笔记的习惯。时</tspan><tspan x="308" dy="12.9">间久了，学生积累的内容越来越丰富，我相信</tspan><tspan x="308" dy="12.9">这样的活动对于提高学生的语文水平是大有好</tspan><tspan x="308" dy="12.9">处的。</tspan></text><path class="u" d="M303 534 H523"/></g>
<g id="l2c"><text class="t" x="668" y="811.8" text-anchor="end">三、提高教学质量的做法</text><path class="u" d="M543 819 H673"/></g>
<g id="l2c1"><text class="t"><tspan x="329" y="661">(一)做好学习方法的指导。我在教学不同的知</tspan><tspan x="329" dy="12.9">识点时，都结合学生学习的情况来渗透学习方</tspan><tspan x="329" dy="12.9">法的指导。</tspan></text><path class="u" d="M314 694 H534"/></g>
<g id="l2c1a"><text class="t"><tspan x="99" y="571">在预习课文时，要求学生"读一画一思一写一</tspan><tspan x="99" dy="12.9">问"的五步预习方法，学生掌握这个预习方法</tspan><tspan x="99" dy="12.9">，有利于提高他的自学能力和阅读水平。</tspan></text><path class="u" d="M94 604 H304"/></g>
<g id="l2c1b"><text class="t"><tspan x="99" y="641.2">在阅读教学上，我注意指导学生抓住文眼来理</tspan><tspan x="99" dy="12.9">解中心，归纳小结"分段、概括段意、概括主</tspan><tspan x="99" dy="12.9">要内容、体会思想感情、感悟表达方法"等阅</tspan><tspan x="99" dy="12.9">读技能，并进行迁移学习到同体裁的课文中去</tspan><tspan x="99" dy="12.9">，收到举一反三的效果。</tspan></text><path class="u" d="M94 700 H304"/></g>
<g id="l2c1c"><text class="t"><tspan x="99" y="738.1">在习作教学上，引导学生仔细观察周边的事物</tspan><tspan x="99" dy="12.9">，关心时事，并把自己的感受诉诸笔端。多积</tspan><tspan x="99" dy="12.9">累素材，多练笔，学生的表达能力亦然不断提</tspan><tspan x="99" dy="12.9">高。</tspan></text><path class="u" d="M94 784 H304"/></g>
<g id="l2c2"><text class="t" x="528" y="935.8" text-anchor="end">(二)做好转差工作</text><path class="u" d="M437 943 H534"/></g>
<g id="l2c2c"><text class="t"><tspan x="222" y="819.7">本班级需帮助的差生大约有五名，提高他们的</tspan><tspan x="222" dy="12.9">成绩，对提高全班整体的学习质量有很大的作</tspan><tspan x="222" dy="12.9">用。我采用的方式是"以多优带一差"的方法，</tspan><tspan x="222" dy="12.9">帮助差生制定出学习目标和学习内容，每天让</tspan><tspan x="222" dy="12.9">优生抽出半小时帮助他们掌握，因为是多名优</tspan><tspan x="222" dy="12.9">生来帮助，所以他们都不会有增大负担的感觉</tspan><tspan x="222" dy="12.9">。另外我还设了奖励的制度，形成了竞争的机</tspan><tspan x="222" dy="12.9">制。通过单元和知识点的小测，检查他们的学</tspan><tspan x="222" dy="12.9">习效果，及时给差生鼓励，使他们重拾学习的</tspan><tspan x="222" dy="12.9">信心。</tspan></text><path class="u" d="M217 943 H432"/></g>
<g id="l2d"><text class="t" x="668" y="1110.8" text-anchor="end">四、存在问题与不足</text><path class="u" d="M563 1118 H673"/></g>
<g id="l2d1"><text class="t"><tspan x="348" y="981.1">1、学生的作业，个别书写质量太差，作业本</tspan><tspan x="348" dy="12.9">保护的不够好，个别同学对字的笔顺、笔画掌</tspan><tspan x="348" dy="12.9">握的不好，错别字比较多，还没有养成认真书</tspan><tspan x="348" dy="12.9">写的好习惯。</tspan></text><path class="u" d="M343 1027 H554"/></g>
<g id="l2d2"><text class="t"><tspan x="348" y="1063">2、在教学过程中，对新教材理解、运用不够</tspan><tspan x="348" dy="12.9">深刻。对教材内容把握不够，教学方法不够灵</tspan><tspan x="348" dy="12.9">活，没能充分提高学生学习的积极性。</tspan></text><path class="u" d="M343 1096 H554"/></g>
<g id="l2d3"><text class="t"><tspan x="348" y="1132.9">3、教学中，未能有效地关注整体，激励性语</tspan><tspan x="348" dy="12.9">言使用不足，不到位。</tspan></text><path class="u" d="M343 1153 H554"/></g>
<g id="l2d4"><text class="t"><tspan x="348" y="1190.9">4、个别学生学习语文的积极性不高，没有养</tspan><tspan x="348" dy="12.9">成良好的课外阅读习惯。</tspan></text><path class="u" d="M343 1211 H554"/></g>
<g id="l2e"><text class="t" x="668" y="1335.8" text-anchor="end">五、今后努力的方向和设想</text><path class="u" d="M532 1343 H673"/></g>
<g id="l2e1"><text class="t"><tspan x="318" y="1248.9">1、采用多种教学手段，激发学生学习语文的</tspan><tspan x="318" dy="12.9">兴趣。</tspan></text><path class="u" d="M314 1269 H525"/></g>
<g id="l2e2"><text class="t"><tspan x="318" y="1305.9">2、要努力开发、充分利用语文课程资源，开</tspan><tspan x="318" dy="12.9">展丰富多彩的语文实践活动。</tspan></text><path class="u" d="M314 1326 H525"/></g>
<g id="l2e3"><text class="t"><tspan x="318" y="1363.2">3、多组织一些班级活动，如：朗读比赛、说</tspan><tspan x="318" dy="12.9">话比赛、讲故事比赛等等，使那些思想落后、</tspan><tspan x="318" dy="12.9">集体荣誉感差的同学受到启发教育，发现他们</tspan><tspan x="318" dy="12.9">的闪光点，及时表扬鼓励，增强他们的自信心</tspan><tspan x="318" dy="12.9">和责任感。</tspan></text><path class="u" d="M314 1422 H525"/></g>
<g id="l4"><text class="h"><tspan x="926" y="1935.9">小学教师校本研修工作总结（精选</tspan><tspan x="926" dy="17">篇4）</tspan></text><path class="u" d="M921 1962 H1134"/></g>
<g id="l4i"><text class="t"><tspan x="697" y="1458.5">自参加中小学教师继续教育新课程远程教育研</tspan><tspan x="697" dy="12.9">修以来，我认真制订个人研修计划，积极学习</tspan><tspan x="697" dy="12.9">，悉心钻研，努力探讨，并将所学新课改理论</tspan><tspan x="697" dy="12.9">知识、先进的教育教学经验与自己的教育教学</tspan><tspan x="697" dy="12.9">实践密切结合，自身也提高了教育论文的写作</tspan><tspan x="697" dy="12.9">能力、搜集整理资料的能力及课题研究能力，</tspan><tspan x="697" dy="12.9">取得了良好的教育教学效果，也实现了向知识</tspan><tspan x="697" dy="12.9">型、学者型、研究型教师的转变。</tspan></text><path class="u" d="M691 1556 H901"/></g>
<g id="l4a"><text class="t" x="896" y="1643.8" text-anchor="end">一、转变思想，更新观念，提高能力</text><path class="u" d="M731 1651 H901"/></g>
<g id="l4a1"><text class="t"><tspan x="508" y="1592.2">我积极投身网络研修的学习当中，通过研修，</tspan><tspan x="508" dy="12.9">使我明确了现代教育的本质，明确课改对于教</tspan><tspan x="508" dy="12.9">师提出了什么样的素质要求。我通过深入学习</tspan><tspan x="508" dy="12.9">，并明确了作为一名教师需理念的转变，是适</tspan><tspan x="508" dy="12.9">应语文新课程改革的根本前提。</tspan></text><path class="u" d="M503 1651 H718"/></g>
<g id="l4b"><text class="t" x="896" y="1881.8" text-anchor="end">二、积极研修，深刻感悟</text><path class="u" d="M781 1889 H901"/></g>
<g id="l4b1"><text class="t"><tspan x="558" y="1688.3">在这期间，，通过研修学习，学了不少知识，</tspan><tspan x="558" dy="12.9">为我营造了一个广阔的学习天地，使我掌握了</tspan><tspan x="558" dy="12.9">先进的教育理念知识和方法。我觉得在理论的</tspan><tspan x="558" dy="12.9">形成方面有大幅度的提高。在培训中有大量的</tspan><tspan x="558" dy="12.9">案例，深入浅出的阐明了理论，通过与专家、</tspan><tspan x="558" dy="12.9">学员的在线互动交流，专家的真知灼见与精辟</tspan><tspan x="558" dy="12.9">见解，以及同行的精彩点评，交流与感悟也让</tspan><tspan x="558" dy="12.9">我意想不到的收获，专家的讲座，每一专题的</tspan><tspan x="558" dy="12.9">各个观点及案例，很好地解决了我们在教学过</tspan><tspan x="558" dy="12.9">程中一些感到束手无策的问题，也得到了很好</tspan><tspan x="558" dy="12.9">借鉴和启迪。对自己以前的教学有了一次彻底</tspan><tspan x="558" dy="12.9">的反思，培训中，我还阅读了大量的先进材料</tspan><tspan x="558" dy="12.9">和记录了一些先进的理论与方法，并把这些科</tspan><tspan x="558" dy="12.9">学的理论与方法应用于教学实践中，取得较好</tspan><tspan x="558" dy="12.9">的教学效果。培训学习不但学有所获，更重要</tspan><tspan x="558" dy="12.9">的是一定要做到有所用。</tspan></text><path class="u" d="M552 1889 H770"/></g>
<g id="l4c"><text class="t" x="896" y="1951.8" text-anchor="end">三、反思教学工作，不断进取</text><path class="u" d="M761 1959 H901"/></g>
<g id="l4c1"><text class="t"><tspan x="538" y="1926">在教学中，不断思量自己在工作中的不足努力</tspan><tspan x="538" dy="12.9">提高自己的业务水平，继续向优秀骨干教师学</tspan><tspan x="538" dy="12.9">习，向有经验的教师请教。</tspan></text><path class="u" d="M532 1959 H750"/></g>
<g id="l4d"><text class="t" x="896" y="2228.8" text-anchor="end">四、立足课堂在实践中提高能力</text><path class="u" d="M751 2236 H901"/></g>
<g id="l4d1"><text class="t"><tspan x="528" y="1996.6">课堂是教师体现自身价值的主阵地，我本着"</tspan><tspan x="528" dy="12.9">一切为了学生，为了学生的一切"的理念，我</tspan><tspan x="528" dy="12.9">将自己的爱全身心地融入到学生中。今后的教</tspan><tspan x="528" dy="12.9">学中，语文教师转变教学行为，那如何去备好</tspan><tspan x="528" dy="12.9">课语文新课程理念要求教师的教学行为必须根</tspan><tspan x="528" dy="12.9">本转变，这样才能主动适应并投入新课程改革</tspan><tspan x="528" dy="12.9">，才能真正落实国家基础教育课程改革的总目</tspan><tspan x="528" dy="12.9">标，全面推进素质教育。然而，以学生为中心</tspan><tspan x="528" dy="12.9">，意味着教师转为合作者，那么一堂课，教师</tspan><tspan x="528" dy="12.9">如何去备课，如何去引导学生根据教材去主动</tspan><tspan x="528" dy="12.9">寻找问题。我将努力将所学的新课程理念应用</tspan><tspan x="528" dy="12.9">到课堂教学实践中，立足"用活新老教材，实</tspan><tspan x="528" dy="12.9">践新理念。"力求让我的数学教学更具特色，</tspan><tspan x="528" dy="12.9">形成独具风格的教学模式，更好地体现素质教</tspan><tspan x="528" dy="12.9">育的要求，提高数学教学质量。同时作为班主</tspan><tspan x="528" dy="12.9">任的我深深懂得，教师的一言一行都影响着学</tspan><tspan x="528" dy="12.9">生，都会对学生起着言传身教的作用。思想教</tspan><tspan x="528" dy="12.9">育要常抓不懈，着重培养学生良好的道德品质</tspan><tspan x="528" dy="12.9">、学习习惯、劳动习惯和文明行为习惯等。</tspan></text><path class="u" d="M522 2236 H740"/></g>
<g id="l4e"><text class="t" x="896" y="2362.8" text-anchor="end">五、研修提高，优化课堂</text><path class="u" d="M781 2370 H901"/></g>
<g id="l4e1"><text class="t"><tspan x="558" y="2272.5">作为传道授业的老师，只有不断的更新自己的</tspan><tspan x="558" dy="12.9">知识，不断提高自身素质，不断的完善自己，</tspan><tspan x="558" dy="12.9">才能教好学生。如果自身散漫，怎能要求学生</tspan><tspan x="558" dy="12.9">认真。要提高我们的自身素质，想我这样年轻</tspan><tspan x="558" dy="12.9">教师多听取学生和老教师的各种意见。并且自</tspan><tspan x="558" dy="12.9">身不断的学习，积极学习，不断开辟新教法。</tspan><tspan x="558" dy="12.9">摒弃旧的教学方法，把先进的教学模式引入课</tspan><tspan x="558" dy="12.9">堂。</tspan></text><path class="u" d="M552 2370 H770"/></g>
<g id="l6"><text class="h"><tspan x="926" y="3261.9">小学教师校本研修工作总结（精选</tspan><tspan x="926" dy="17">篇6）</tspan></text><path class="u" d="M921 3288 H1134"/></g>
<g id="l6i"><text class="t"><tspan x="695" y="3255">20_年，在共进镇中心校的指导和关怀下，</tspan><tspan x="695" dy="12.9">我校校本研修工作已接近尾声，回顾近一年来</tspan><tspan x="695" dy="12.9">的工作，现总结如下:</tspan></text><path class="u" d="M682 3288 H902"/></g>
<g id="l6a"><text class="t" x="668" y="2887.8" text-anchor="end">一、基本工作</text><path class="u" d="M593 2895 H673"/></g>
<g id="l6a1"><text class="t" x="578" y="2458.8" text-anchor="end">(一)领导重视，强化校本研修管理</text><path class="u" d="M427 2466 H583"/></g>
<g id="l6a1c"><text class="t"><tspan x="203" y="2407.2">非常重视校本研修工作，成立了校长任组长的</tspan><tspan x="203" dy="12.9">校本研修领导小组，加强对校本研修工作的指</tspan><tspan x="203" dy="12.9">导，把校本研修作为加强教师队伍建设的重要</tspan><tspan x="203" dy="12.9">手段，通过开展校本研修，大力提高教师专业</tspan><tspan x="203" dy="12.9">化水平。</tspan></text><path class="u" d="M198 2466 H420"/></g>
<g id="l6a2"><text class="t" x="578" y="2541.8" text-anchor="end">(二)建立激励机制，推动校本教研进程</text><path class="u" d="M407 2549 H583"/></g>
<g id="l6a2c"><text class="t"><tspan x="183" y="2503.1">为了调动教师参与教学研究的积极性，促进校</tspan><tspan x="183" dy="12.9">本研修深入持久地开展，学校安装了一体机，</tspan><tspan x="183" dy="12.9">购买了教辅资料。以改变教师的教育教学观念</tspan><tspan x="183" dy="12.9">，开拓教师视野，提高教学水平。</tspan></text><path class="u" d="M178 2549 H400"/></g>
<g id="l6a3"><text class="t" x="578" y="2861.8" text-anchor="end">(三)采取多种研修模式，全面提升教师素质</text><path class="u" d="M374 2869 H583"/></g>
<g id="l6a3a"><text class="t"><tspan x="163" y="2587.2">1、拜师结对模式。对新上岗教师的培养学校</tspan><tspan x="163" dy="12.9">采取了拜师结对的形式，9月初对新教师陈静</tspan><tspan x="163" dy="12.9">、转岗教师罗薇妮，听取了新教师汇报课，指</tspan><tspan x="163" dy="12.9">定师傅，一对一结拜，老教师指导，效果较好</tspan><tspan x="163" dy="12.9">。</tspan></text><path class="u" d="M156 2646 H367"/></g>
<g id="l6a3b"><text class="t"><tspan x="163" y="2682.6">2、案例研修模式。即从典型案例中获得启迪</tspan><tspan x="163" dy="12.9">、寻求解决问题思路的方式。运用这种模式进</tspan><tspan x="163" dy="12.9">行研修时，研修者一定要精选出具有代表性、</tspan><tspan x="163" dy="12.9">典型性的案例，然后组织教师进行深入讨论，</tspan><tspan x="163" dy="12.9">这种模式具有较强的针对性，效果较好。通过</tspan><tspan x="163" dy="12.9">教师参与式的研讨，引导教师运用课改的理念</tspan><tspan x="163" dy="12.9">，对课例进行分析、模仿、借鉴，从中领悟一</tspan><tspan x="163" dy="12.9">些新颖的教学方式，启迪自己的课堂教学，取</tspan><tspan x="163" dy="12.9">得了很好的效果。</tspan></text><path class="u" d="M156 2793 H367"/></g>
<g id="l6a3c"><text class="t"><tspan x="163" y="2829.3">3、课题研究模式。以我校的市级小课题《导</tspan><tspan x="163" dy="12.9">学案引领下的初中语文自主学习策略研究》为</tspan><tspan x="163" dy="12.9">抓手，开展系列式主题教研活动，并将导学案</tspan><tspan x="163" dy="12.9">的运用试推广至其他学科。张米、冯超的区级</tspan><tspan x="163" dy="12.9">课题也正常开展，有力的带动了一批教师，提</tspan><tspan x="163" dy="12.9">高了教科研能力。</tspan></text><path class="u" d="M156 2901 H367"/></g>
<g id="l6a3d"><text class="t"><tspan x="163" y="2937.2">4、开展联片教研活动，为下一步构建大学区</tspan><tspan x="163" dy="12.9">建设奠定基础。12月初由我校承办了关庙联</tspan><tspan x="163" dy="12.9">片教研活动，我校邀请关庙片区各校部分教学</tspan><tspan x="163" dy="12.9">能手在活动中展示优质课，充分发挥了骨干教</tspan><tspan x="163" dy="12.9">师的专业引领作用。</tspan></text><path class="u" d="M156 2996 H367"/></g>
<g id="l6a3e"><text class="t"><tspan x="163" y="3034.2">5、江北高中的支部共建活动以送教下乡为载</tspan><tspan x="163" dy="12.9">体，带领省级教学能手在我校送教，并与我校</tspan><tspan x="163" dy="12.9">教师亲切座谈。广大教师听课、评课热情高涨</tspan><tspan x="163" dy="12.9">。活动有效促进了我校中青年教师的专业成长</tspan><tspan x="163" dy="12.9">。</tspan></text><path class="u" d="M156 3093 H367"/></g>
<g id="l6a4"><text class="t" x="578" y="3315.8" text-anchor="end">(四)校本研修内容丰富多彩</text><path class="u" d="M452 3323 H583"/></g>
<g id="l6a4a"><text class="t" x="429" y="3181.8" text-anchor="end">1、加强师德建设，筑牢道德底线。</text><path class="u" d="M274 3189 H439"/></g>
<g id="l6a4ac"><text class="t"><tspan x="48" y="3130.2">教书育人，师德为本，缺乏良好师德的教师队</tspan><tspan x="48" dy="12.9">伍，无从谈好的教学质量。以《中小学教师职</tspan><tspan x="48" dy="12.9">业道德规范》为依据，使每位教师能够做到遵</tspan><tspan x="48" dy="12.9">纪守法，爱岗敬业，勇于创新，成为教书育人</tspan><tspan x="48" dy="12.9">的楷模，学生、家长、社会满意的好教师。</tspan></text><path class="u" d="M44 3189 H262"/></g>
<g id="l6a4b"><text class="t"><tspan x="233" y="3225.5">2、新课程理念研修。课程改革成败的关键在</tspan><tspan x="233" dy="12.9">于教师，教师对新课程理念的认识程度直接影</tspan><tspan x="233" dy="12.9">响课改实验的成效。为此，九月份，教科室组</tspan><tspan x="233" dy="12.9">织以业务为主题培训了全体教师，严格要求教</tspan><tspan x="233" dy="12.9">改辅批备教学环节。重点围绕上课、评课开展</tspan><tspan x="233" dy="12.9">教研组活动，通过校内各科优质课、公开课、</tspan><tspan x="233" dy="12.9">示范课和观摩课研修，在一个个案例中实践、</tspan><tspan x="233" dy="12.9">体验新的课程理念。</tspan></text><path class="u" d="M227 3323 H439"/></g>
<g id="l6a4c"><text class="t"><tspan x="233" y="3359.5">3、现代教育信息技术培训。随着现代科学技</tspan><tspan x="233" dy="12.9">术的不断发展，以计算机技术为代表的现代教</tspan><tspan x="233" dy="12.9">育信息技术正在迅速地改变着我们的工作和生</tspan><tspan x="233" dy="12.9">活方式，也正在深刻地改变着教育方式和学习</tspan><tspan x="233" dy="12.9">方式。我校校本培训积极推进以普及计算机应</tspan><tspan x="233" dy="12.9">用能力为核心的现代教育信息技术培训，由罗</tspan><tspan x="233" dy="12.9">微妮等青年骨干教师主讲微课的制作，更新了</tspan><tspan x="233" dy="12.9">广大教师的观念。</tspan></text><path class="u" d="M227 3457 H439"/></g>
<g id="l6b"><text class="t" x="668" y="3675.8" text-anchor="end">二、问题与思考</text><path class="u" d="M583 3683 H673"/></g>
<g id="l6b1"><text class="t"><tspan x="368" y="3494.2">1、在教师研修过程中，信息闭塞，教师搞研</tspan><tspan x="368" dy="12.9">激情不够，热情不高。交流的封闭性，也必然</tspan><tspan x="368" dy="12.9">使该研修者失去学习的兴趣。如何使校本研修</tspan><tspan x="368" dy="12.9">逐步走上系统化、规范化、制度化、现代化，</tspan><tspan x="368" dy="12.9">以什么样的形式展开，还需要探索。</tspan></text><path class="u" d="M363 3553 H574"/></g>
<g id="l6b2"><text class="t"><tspan x="368" y="3590.6">2、结合我校的课题方面，由于各学科青年骨</tspan><tspan x="368" dy="12.9">干教师及中老年教师的分布不均衡，成员科研</tspan><tspan x="368" dy="12.9">水平及参与实践研究的热情程度不同，导致目</tspan><tspan x="368" dy="12.9">前各学科组的发展态势不均衡，还需加强各学</tspan><tspan x="368" dy="12.9">科青年骨干教师的互动交流和培训，倡导研究</tspan><tspan x="368" dy="12.9">和创新。在具体实践研究的过程中感觉到对每</tspan><tspan x="368" dy="12.9">个具体研究主题中所需要的理论支撑比较薄弱</tspan><tspan x="368" dy="12.9">，有时感到心有余而力不足，需要得到教研室</tspan><tspan x="368" dy="12.9">专家、中心校及兄弟学校同行的指导与帮助。</tspan></text><path class="u" d="M363 3701 H574"/></g>
<g id="l6b3"><text class="t"><tspan x="368" y="3738.3">3、机构不健全，教研组工作滞后，不能正常</tspan><tspan x="368" dy="12.9">有效开展活动。为了使校本研修工作真正能促</tspan><tspan x="368" dy="12.9">进教师专业化发展，促进学校教育教学工作的</tspan><tspan x="368" dy="12.9">开展，我们必须继续以全面提高我校教师的整</tspan><tspan x="368" dy="12.9">体素质为核心，把校本研修真正落到实处，促</tspan><tspan x="368" dy="12.9">教师的专业化发展。</tspan></text><path class="u" d="M363 3810 H574"/></g>
<g id="watermark">
<text class="wm" text-anchor="middle" transform="rotate(-32 645 525)" x="645" y="565">树图 shutu.cn</text>
<text class="wm" text-anchor="middle" transform="rotate(-32 1930 530)" x="1930" y="570">树图 shutu.cn</text>
<text class="wm" text-anchor="middle" transform="rotate(-32 645 1523)" x="645" y="1563">树图 shutu.cn</text>
<text class="wm" text-anchor="middle" transform="rotate(-32 1930 1526)" x="1930" y="1566">树图 shutu.cn</text>
<text class="wm" text-anchor="middle" transform="rotate(-32 649 2533)" x="649" y="2573">树图 shutu.cn</text>
<text class="wm" text-anchor="middle" transform="rotate(-32 1931 2523)" x="1931" y="2563">树图 shutu.cn</text>
<text class="wm" text-anchor="middle" transform="rotate(-32 649 3516)" x="649" y="3556">树图 shutu.cn</text>
<text class="wm" text-anchor="middle" transform="rotate(-32 1931 3534)" x="1931" y="3574">树图 shutu.cn</text>
</g>
</svg>
